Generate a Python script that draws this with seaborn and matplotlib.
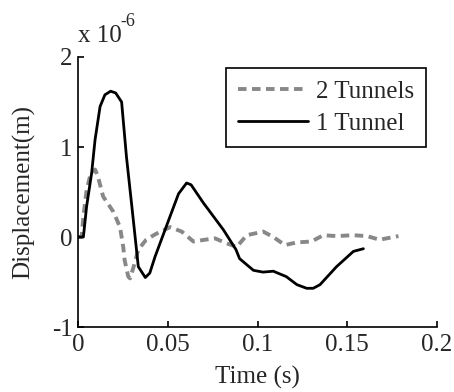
import matplotlib
matplotlib.use('Agg')
import matplotlib.pyplot as plt
import seaborn as sns
import numpy as np

# displacement in units of 1e-6 m
t_two = [0, 0.002, 0.003, 0.0048, 0.007, 0.0095, 0.011, 0.014, 0.0197, 0.0234,
         0.0252, 0.026, 0.028, 0.029, 0.031, 0.0336, 0.038, 0.043, 0.0513, 0.0578,
         0.0643, 0.0708, 0.0763, 0.0828, 0.0884, 0.094, 0.1032, 0.1088, 0.1153, 0.1218,
         0.130, 0.1367, 0.144, 0.1533, 0.161, 0.168, 0.1785]
d_two = [0, 0.0, 0.23, 0.52, 0.70, 0.75, 0.68, 0.45, 0.28, 0.11,
         -0.11, -0.26, -0.44, -0.46, -0.33, -0.14, -0.03, 0.03, 0.11, 0.06,
         -0.05, -0.03, -0.015, -0.07, -0.11, 0.02, 0.06, 0.0, -0.09, -0.06,
         -0.05, 0.02, 0.01, 0.02, 0.01, -0.03, 0.01]

t_one = [0, 0.003, 0.0048, 0.0076, 0.0095, 0.0123, 0.015, 0.0182, 0.021, 0.0243,
         0.027, 0.030, 0.0336, 0.0375, 0.040, 0.0429, 0.0513, 0.056, 0.0605, 0.063,
         0.0698, 0.081, 0.088, 0.090, 0.0977, 0.103, 0.1088, 0.116, 0.122, 0.1274,
         0.131, 0.1348, 0.144, 0.1534, 0.159]
d_one = [0, 0, 0.34, 0.71, 1.08, 1.45, 1.58, 1.62, 1.60, 1.50,
         0.89, 0.34, -0.33, -0.45, -0.40, -0.22, 0.23, 0.48, 0.60, 0.58,
         0.38, 0.08, -0.14, -0.24, -0.37, -0.39, -0.38, -0.44, -0.53, -0.57,
         -0.57, -0.53, -0.33, -0.16, -0.13]

xticks = [0, 0.05, 0.1, 0.15, 0.2]
xticklabels = ['0', '0.05', '0.1', '0.15', '0.2']
yticks = [-1, 0, 1, 2]
yticklabels = ['-1', '0', '1', '2']

sns.set_style('ticks')
plt.rcParams['font.family'] = ['Liberation Serif', 'DejaVu Serif']
plt.rcParams['xtick.direction'] = 'in'
plt.rcParams['ytick.direction'] = 'in'

fs = 18
fig = plt.figure(figsize=(4.54, 3.92), dpi=100)
ax = fig.add_axes([0.1718, 0.1658, 0.7908, 0.6888])

sns.lineplot(x=t_two, y=d_two, ax=ax, color='#888888', lw=2.8,
             label='2 Tunnels', sort=False)
ax.lines[-1].set_dashes((2.2, 1.4))
sns.lineplot(x=t_one, y=d_one, ax=ax, color='black', lw=2.0,
             label='1 Tunnel', sort=False)

ax.set_xlim(0, 0.2)
ax.set_ylim(-1, 2)
ax.set_xticks(xticks)
ax.set_xticklabels(xticklabels)
ax.set_yticks(yticks)
ax.set_yticklabels(yticklabels)
ax.tick_params(labelsize=fs, length=4, width=1.2, color='black')
ax.tick_params(axis='x', pad=5)
ax.tick_params(axis='y', pad=4)
for s in ['top', 'right']:
    ax.spines[s].set_visible(False)
for s in ['left', 'bottom']:
    ax.spines[s].set_linewidth(1.2)
    ax.spines[s].set_color('black')

ax.set_xlabel('Time (s)', fontsize=fs, labelpad=7)
ax.set_ylabel('Displacement(m)', fontsize=fs, labelpad=12)
# exponent label, MATLAB style
ax.text(0.0, 1.055, 'x 10', transform=ax.transAxes, fontsize=fs,
        ha='left', va='baseline')
ax.text(0.117, 1.115, '-6', transform=ax.transAxes, fontsize=13,
        ha='left', va='baseline')

leg = ax.legend(loc='upper right', bbox_to_anchor=(0.969, 0.959), fontsize=fs,
                frameon=True, fancybox=False, edgecolor='black',
                handlelength=2.8, handletextpad=0.3, borderpad=0.48,
                labelspacing=0.4, borderaxespad=0)
leg.get_frame().set_linewidth(1.2)
leg.get_frame().set_alpha(1)

fig.savefig('out.png', dpi=100)
